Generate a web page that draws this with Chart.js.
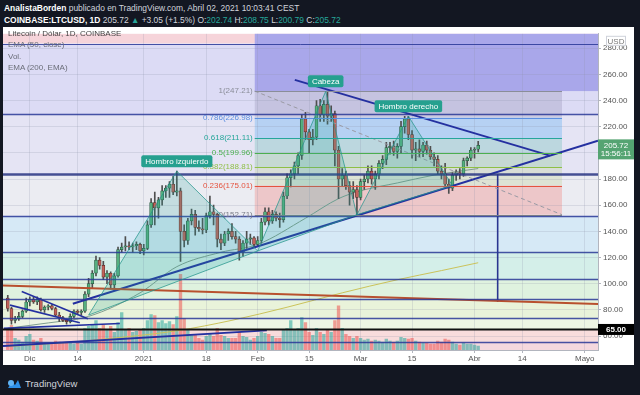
<!DOCTYPE html>
<html><head><meta charset="utf-8">
<script src="https://cdn.jsdelivr.net/npm/chart.js@4.4.1/dist/chart.umd.min.js"></script>
<style>
html,body{margin:0;padding:0;background:#131722;width:640px;height:395px;overflow:hidden;font-family:"Liberation Sans",Arial,sans-serif;}
#hdr{position:absolute;left:3px;top:0;width:634px;height:27px;color:#d1d4dc;font-size:8.45px;}
#hdr .l1{position:absolute;top:3px;left:1px;white-space:nowrap;}
#hdr .l2{position:absolute;top:15px;left:1px;white-space:nowrap;}
#hdr b{color:#fff;}
#hdr .g{color:#26a69a;}
#wrap{position:absolute;left:3px;top:27px;width:631px;height:338px;background:#fff;}
#legend{position:absolute;left:5px;top:1px;font-size:8px;color:#6a6d78;line-height:11.3px;pointer-events:none;}
#legend .t{color:#444;}
#ftr{position:absolute;left:6px;top:375px;height:16px;color:#d1d4dc;font-size:9.5px;display:flex;align-items:center;}
#ftr svg{margin-right:3px;}
</style></head>
<body>
<div id="hdr">
 <div class="l1"><b>AnalistaBorden</b> publicado en TradingView.com, Abril 02, 2021 10:03:41 CEST</div>
 <div class="l2"><b>COINBASE:LTCUSD, 1D</b> 205.72 <span class="g">▲</span> +3.05 (+1.5%) O:<span class="g">202.74</span> H:<span class="g">208.75</span> L:<span class="g">200.79</span> C:<span class="g">205.72</span></div>
</div>
<div id="wrap">
 <canvas id="c" width="631" height="338"></canvas>
 <div id="legend"><div class="t">Litecoin / Dólar, 1D, COINBASE</div><div>EMA (50, close)</div><div>Vol.</div><div>EMA (200, EMA)</div></div>
</div>
<div id="ftr"><svg width="16" height="11" viewBox="0 0 16 11"><path d="M2 10 L6 4 L9 7 L12 2 L15 10 Z" fill="#2e8fe6"/><circle cx="5" cy="5" r="3" fill="#5fb3f5"/></svg>TradingView</div>
<script>
// ---- data ----
const startDay = -6; // day index of first candle (0 = 1 Dic 2020)
const opens  = [89,81,72,73,75,79, 86,88,86,88,80,82,83,81,76,74,72,71,75,79,78, 79,92,100,108,118,114,105,108,99,106,126,128,129,128,129,130, 125,127,145,162,158,164,171,173,176,170,171,140, 133,148,153,143,142,141,152,155,153,134,131,138,140,136,134,124,131,134,135, 130,133,147,155,148,153,150,149,167,181,184,190,198,226,216,210,212,236,229,237,228,230,202,180,183,175,170,172, 166,178,180,186,180,184,192,195,204,205,201,205,220,226,214,202,203,201,206,202,197,195,186,184,176,173,183,185,184,194,196,202,202.74];
const highs  = [91,82,75,78,80,89, 90,90,90,89,83,84,84,82,78,75,73,77,80,80,80, 94,104,110,121,120,117,110,109,108,128,131,136,132,131,132,131, 130,148,165,170,166,175,175,178,182,186,173,145, 150,157,156,148,150,154,167,160,154,138,140,142,146,140,136,133,140,138,136, 136,150,158,158,156,155,154,170,184,187,193,200,229,231,218,218,240,241,240,247.21,236,232,205,188,186,178,178,175, 180,183,190,190,186,194,198,208,208,209,207,224,228,228,217,208,210,208,209,205,200,198,190,192,180,185,187,188,196,197,204,204,208.75];
const lows   = [79,69,70,72,74,78, 83,85,84,79,78,80,80,75,71,71,69,70,74,77,76, 78,90,97,106,111,103,100,96,97,105,124,125,126,124,126,123, 122,126,143,145,150,160,166,166,168,167,117,128, 130,145,137,140,138,139,150,145,128,126,129,133,134,131,118,121,127,130,128, 129,131,145,145,146,148,143,147,165,174,180,184,195,210,200,206,210,224,224,222,224,190,165,175,172,160,165,152.71, 164,172,177,176,172,180,188,191,199,198,196,200,215,210,196,194,197,197,199,195,190,184,180,174,169,171,179,180,182,190,194,196,200.79];
const closes = [81,72,73,75,79,86, 88,86,88,80,82,83,81,76,74,72,71,75,79,78,79, 92,100,108,118,114,105,108,99,106,126,128,129,128,129,130,125, 127,145,162,158,164,171,173,176,170,171,140,133, 148,153,143,142,141,152,155,153,134,131,138,140,136,134,124,131,134,135,130, 133,147,155,148,153,150,149,167,181,184,190,198,226,216,210,212,236,229,237,228,230,202,180,183,175,170,172,166, 178,180,186,180,184,192,195,204,205,201,205,220,226,214,202,203,201,206,202,197,195,186,184,176,173,183,185,184,194,196,202,202.74,205.72];
const volumes = [22,25,12,10,8,14, 16,10,9,12,7,6,6,9,8,7,8,7,6,7,6, 22,24,26,30,22,25,20,24,18,28,38,20,22,18,19,20, 22,30,36,35,28,30,27,29,26,34,77,32, 20,16,16,12,10,14,17,14,22,15,14,12,12,12,18,14,13,10,12, 14,18,17,16,14,12,12,20,22,30,20,22,33,28,18,15,22,18,16,20,18,30,45,22,16,14,12,14, 12,10,11,9,10,9,8,11,9,8,9,13,12,11,12,9,8,7,7,6,6,9,8,11,10,8,6,5,7,6,6,5,4]; // x10k LTC

const xTickDays   = [0,13,31,48,62,76,90,104,121,134,151];
const xTickLabels = ['Dic','14','2021','18','Feb','15','Mar','15','Abr','14','Mayo'];
const priceTicks  = [60,80,100,120,140,160,180,200,220,240,260,280];
const xRange = [-7.3, 154.6];
const yRange = [49.3, 291.0];

const ema50  = [[-6,66],[5,70],[16,75],[30,93],[40,113],[52,124],[62,130],[75,150],[84,165],[90,171],[100,177],[110,183],[122,188]];
const ema200 = [[-6,52],[10,55],[25,59],[40,64],[55,72],[70,82],[85,93],[100,103],[112,110],[122,116]];

const fibLevels = [247.21,226.98,211.11,199.96,188.81,175.01,152.71];
const fibRatios = ['1','0.786','0.618','0.5','0.382','0.236','0'];
const fibSpan   = [61.2,144.8];
const bandLevels = [291,283.5,229.5,183.7,151.8,124.4,103.4,88.4,73.4,65,55.5,49.3];
const hLevels    = [283.5,229.5,183.7,151.8,124.4,103.4,88.4,73.4,55.5];
const supportLevel = 65;
const lastPrice = 205.72;
const lastTime  = '15:56:11';

const ascLine    = [[11.7,84.6],[154.6,209.2]];
const descLine   = [[72.1,255.8],[141.5,197.9]];
const chanUpper  = [[-2.2,94.1],[15.8,73.2]];
const chanLower  = [[-5.4,83.6],[13.6,70.2]];
const baseLineA  = [[-7.1,65.8],[24.5,69.6]];
const baseLineB  = [[-7.3,52.3],[64.5,64.3]];
const redLine    = [[-7.3,98.6],[154.6,84.4]];
const targetLine = [[127.3,183.7],[127.3,85.9]];
const fibDiag    = [[61.2,247.21],[144.8,152.71]];
const hsPoints   = [[16,76],[40,186],[62,125],[80.5,247],[89,152.7],[103,228],[115,175]];
const hsLabels   = ['Hombro izquierdo','Cabeza','Hombro derecho'];

// ---- styles ----
const bandColors = ['#f6d4da','#dcdbf5','#e5e4f4','#ebecf2','#d6e9f6','#d4efe9','#dff2df','#e9f3da','#eef5e4','#f8dcdc','#f5d8de'];
const purpleColor = '#a9a7ea';
const fibBandColors = ['rgba(120,110,150,0.22)','rgba(33,150,243,0.24)','rgba(8,153,129,0.18)','rgba(76,175,80,0.2)','rgba(160,190,80,0.18)','rgba(244,67,54,0.22)'];
const fibLineColors = ['#8a8d98','#5b8fe0','#26a69a','#4caf50','#8fbf45','#e5533f','#787b86'];
const FONT = '"Liberation Sans", Arial, sans-serif';

const days = opens.map((_, i) => startDay + i);
const up = i => closes[i] >= opens[i];
const pts = arr => arr.map(([x, y]) => ({x, y}));
const lineDs = (arr, color, width, extra) => Object.assign({type:'line', data:pts(arr), borderColor:color, borderWidth:width, pointRadius:0, fill:false, order:1}, extra||{});

const tvPlugin = {
  id:'tv',
  beforeDraw(chart){
    const {ctx, chartArea:a, scales:{x, y}} = chart;
    ctx.save();
    for (let i = 0; i < bandLevels.length - 1; i++){
      const y0 = y.getPixelForValue(bandLevels[i]), y1 = y.getPixelForValue(bandLevels[i+1]);
      ctx.fillStyle = bandColors[i]; ctx.fillRect(a.left, y0, a.right - a.left, y1 - y0);
    }
    const xf0 = x.getPixelForValue(fibSpan[0]), xf1 = x.getPixelForValue(fibSpan[1]);
    ctx.fillStyle = purpleColor;
    ctx.fillRect(xf0, a.top, a.right - xf0, y.getPixelForValue(fibLevels[0]) - a.top);
    for (let i = 0; i < fibLevels.length - 1; i++){
      const y0 = y.getPixelForValue(fibLevels[i]), y1 = y.getPixelForValue(fibLevels[i+1]);
      ctx.fillStyle = fibBandColors[i]; ctx.fillRect(xf0, y0, xf1 - xf0, y1 - y0);
    }
    ctx.restore();
  },
  afterDatasetsDraw(chart){
    const {ctx, chartArea:a, scales:{x, y}} = chart;
    ctx.save();
    ctx.beginPath(); ctx.rect(a.left, a.top, a.right - a.left, a.bottom - a.top); ctx.clip();
    hLevels.forEach(v => {
      const py = Math.round(y.getPixelForValue(v)) + 0.5;
      ctx.strokeStyle = v === 183.7 ? 'rgba(40,52,130,0.85)' : 'rgba(40,55,150,0.85)';
      ctx.lineWidth = v === 183.7 ? 2.5 : (v === 283.5 ? 1 : 1.4);
      ctx.beginPath(); ctx.moveTo(a.left, py); ctx.lineTo(a.right, py); ctx.stroke();
    });
    const sy = Math.round(y.getPixelForValue(supportLevel)) + 0.5;
    ctx.strokeStyle = '#111'; ctx.lineWidth = 2;
    ctx.beginPath(); ctx.moveTo(a.left, sy); ctx.lineTo(a.right, sy); ctx.stroke();
    const xf0 = x.getPixelForValue(fibSpan[0]), xf1 = x.getPixelForValue(fibSpan[1]);
    ctx.font = '8px ' + FONT; ctx.textAlign = 'right'; ctx.textBaseline = 'middle';
    fibLevels.forEach((v, i) => {
      const py = Math.round(y.getPixelForValue(v)) + 0.5;
      ctx.strokeStyle = fibLineColors[i]; ctx.lineWidth = 1;
      ctx.beginPath(); ctx.moveTo(xf0, py); ctx.lineTo(xf1, py); ctx.stroke();
      ctx.fillStyle = fibLineColors[i];
      ctx.fillText(fibRatios[i] + '(' + v.toFixed(2) + ')', xf0 - 2, py - 1);
    });
    const P = hsPoints.map(([d, p]) => [x.getPixelForValue(d), y.getPixelForValue(p)]);
    [[0,1,2],[2,3,4],[4,5,6]].forEach(t => {
      ctx.beginPath(); ctx.moveTo(P[t[0]][0], P[t[0]][1]); ctx.lineTo(P[t[1]][0], P[t[1]][1]); ctx.lineTo(P[t[2]][0], P[t[2]][1]); ctx.closePath();
      ctx.fillStyle = 'rgba(38,166,154,0.2)'; ctx.fill();
      ctx.strokeStyle = 'rgba(38,150,140,0.75)'; ctx.lineWidth = 1; ctx.stroke();
    });
    ctx.font = '8px ' + FONT; ctx.textAlign = 'center'; ctx.textBaseline = 'middle';
    [1,3,5].forEach((k, j) => {
      const tw = ctx.measureText(hsLabels[j]).width + 8;
      const cx = P[k][0], cy = P[k][1] - 10;
      ctx.fillStyle = '#26a08f';
      ctx.beginPath(); ctx.roundRect(cx - tw/2, cy - 6, tw, 12, 2); ctx.fill();
      ctx.fillStyle = '#fff'; ctx.fillText(hsLabels[j], cx, cy + 0.5);
    });
    ctx.restore();
  },
  afterDraw(chart){
    const {ctx, chartArea:a, scales:{y}} = chart;
    ctx.save();
    ctx.font = '8px ' + FONT; ctx.textAlign = 'center'; ctx.textBaseline = 'middle';
    const ax = a.right, aw = chart.width - a.right;
    ctx.strokeStyle = '#cfd2da'; ctx.lineWidth = 1;
    ctx.fillStyle = '#fff'; ctx.fillRect(ax + 8, a.top + 2, 20, 10); ctx.strokeRect(ax + 8.5, a.top + 2.5, 19, 9);
    ctx.fillStyle = '#777'; ctx.fillText('USD', ax + 18, a.top + 7.5);
    const py = y.getPixelForValue(lastPrice);
    ctx.fillStyle = '#55a472'; ctx.fillRect(ax, py - 6, aw, 20);
    ctx.fillStyle = '#fff'; ctx.fillText(lastPrice.toFixed(2), ax + aw/2, py + 0.5); ctx.fillText(lastTime, ax + aw/2, py + 8.5);
    const sy = y.getPixelForValue(supportLevel);
    ctx.fillStyle = '#000'; ctx.fillRect(ax, sy - 5.5, aw, 11);
    ctx.fillStyle = '#fff'; ctx.font = 'bold 8px ' + FONT; ctx.fillText(supportLevel.toFixed(2), ax + aw/2, sy + 0.5);
    ctx.restore();
  }
};

new Chart(document.getElementById('c'), {
  type:'bar',
  data:{ datasets:[
    {type:'bar', data:days.map((d,i)=>({x:d, y:volumes[i]})), yAxisID:'vol', barThickness:2.7, grouped:false,
     backgroundColor:days.map((d,i)=> up(i) ? 'rgba(38,166,154,0.55)' : 'rgba(239,83,80,0.55)'), order:10},
    lineDs(ema200, '#cbc35a', 1, {order:6, cubicInterpolationMode:'monotone'}),
    lineDs(ema50, '#7f9d8e', 1, {order:6, cubicInterpolationMode:'monotone'}),
    {type:'bar', data:days.map((d,i)=>({x:d, y:[lows[i], highs[i]]})), barThickness:1, grouped:false, backgroundColor:'#4f4f4f', order:5},
    {type:'bar', data:days.map((d,i)=>({x:d, y:[opens[i], closes[i]]})), barThickness:3, grouped:false, minBarLength:1,
     backgroundColor:days.map((d,i)=> up(i) ? '#55b07f' : '#c2625a'),
     borderColor:days.map((d,i)=> up(i) ? '#2c5e45' : '#62302c'), borderWidth:0.7, borderSkipped:false, order:4},
    lineDs(fibDiag, '#9a9aa4', 1, {borderDash:[4,3]}),
    lineDs(redLine, '#b8502e', 2),
    lineDs(ascLine, '#2430a0', 2),
    lineDs(descLine, '#2430a0', 2),
    lineDs(chanUpper, '#2430a0', 1.6),
    lineDs(chanLower, '#2430a0', 1.6),
    lineDs(baseLineA, '#2430a0', 1.6),
    lineDs(baseLineB, '#2430a0', 2),
    lineDs(targetLine, '#2a3590', 1.6)
  ]},
  options:{
    responsive:false, animation:false, devicePixelRatio:1,
    layout:{padding:{top:1, left:0, right:0, bottom:0}},
    plugins:{legend:{display:false}, tooltip:{enabled:false}},
    scales:{
      x:{type:'linear', min:xRange[0], max:xRange[1], offset:false,
         afterBuildTicks:s => { s.ticks = xTickDays.map(v => ({value:v})); },
         afterFit:s => { s.height = 15; },
         grid:{offset:false, color:'rgba(140,145,170,0.22)', tickLength:3, tickColor:'#b2b5be'},
         border:{color:'#b2b5be'},
         ticks:{autoSkip:false, maxRotation:0, padding:1, color:'#555', font:{size:8, family:FONT},
                callback:(v, i) => xTickLabels[i]}},
      y:{position:'right', min:yRange[0], max:yRange[1],
         afterBuildTicks:s => { s.ticks = priceTicks.map(v => ({value:v})); },
         afterFit:s => { s.width = 36; },
         grid:{color:'rgba(140,145,170,0.22)', tickLength:3, tickColor:'#b2b5be'},
         border:{color:'#b2b5be'},
         ticks:{padding:2, color:'#555', font:{size:8, family:FONT}, callback:v => Number(v).toFixed(2)}},
      vol:{display:false, min:0, max:322}
    }
  },
  plugins:[tvPlugin]
});
</script>
</body></html>
